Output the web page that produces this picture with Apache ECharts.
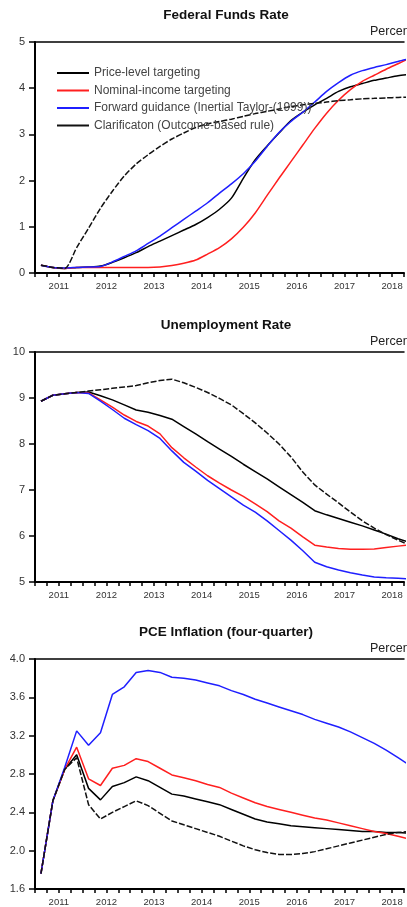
<!DOCTYPE html>
<html><head><meta charset="utf-8">
<script src="https://cdn.jsdelivr.net/npm/echarts@6/dist/echarts.min.js"></script>
<style>html,body{margin:0;padding:0;background:#fff}#c{width:407px;height:907px}</style>
</head><body><div id="c"></div>
<script>
// ---------- data ----------
const quarters = [];
for (let y = 2011; y <= 2018; y++) for (let q = 1; q <= 4; q++) quarters.push(y + 'Q' + q);

const seriesNames = ['Price-level targeting', 'Nominal-income targeting',
  'Forward guidance (Inertial Taylor-(1999))', 'Clarificaton (Outcome-based rule)'];
const panelTitles = ['Federal Funds Rate', 'Unemployment Rate', 'PCE Inflation (four-quarter)'];
const unitLabel = 'Percent';

const ffrPriceLevel = [0.17,0.12,0.10,0.12,0.13,0.15,0.23,0.33,0.44,0.57,0.69,0.81,0.93,1.05,1.20,1.38,1.62,2.05,2.45,2.75,3.03,3.30,3.48,3.64,3.78,3.93,4.03,4.10,4.17,4.22,4.27,4.30];
const ffrNominal = [0.17,0.12,0.10,0.12,0.12,0.12,0.12,0.12,0.12,0.12,0.13,0.16,0.21,0.28,0.41,0.55,0.74,0.99,1.30,1.68,2.05,2.41,2.77,3.13,3.46,3.74,3.97,4.15,4.28,4.41,4.53,4.65];
const ffrForward = [0.17,0.12,0.11,0.12,0.13,0.14,0.24,0.36,0.48,0.64,0.80,0.98,1.16,1.34,1.52,1.73,1.93,2.15,2.42,2.74,3.04,3.28,3.48,3.70,3.93,4.12,4.28,4.38,4.45,4.51,4.58,4.64];
const ffrClarification = [0.17,0.12,0.10,0.55,0.97,1.40,1.77,2.10,2.36,2.56,2.74,2.90,3.03,3.15,3.23,3.28,3.33,3.39,3.45,3.50,3.55,3.60,3.64,3.67,3.70,3.73,3.75,3.77,3.78,3.79,3.80,3.81];

const unPriceLevel = [8.93,9.06,9.09,9.12,9.13,9.05,8.96,8.85,8.74,8.69,8.62,8.54,8.38,8.22,8.05,7.89,7.73,7.56,7.40,7.24,7.07,6.90,6.73,6.55,6.46,6.38,6.30,6.22,6.13,6.04,5.94,5.86];
const unNominal = [8.93,9.06,9.09,9.12,9.11,8.96,8.80,8.63,8.49,8.39,8.22,7.92,7.70,7.50,7.31,7.15,7.00,6.86,6.70,6.53,6.33,6.17,5.98,5.80,5.76,5.73,5.71,5.71,5.72,5.75,5.78,5.81];
const unForward = [8.93,9.06,9.09,9.12,9.10,8.93,8.75,8.56,8.42,8.29,8.12,7.85,7.60,7.41,7.21,7.03,6.85,6.67,6.52,6.33,6.12,5.91,5.68,5.43,5.33,5.26,5.20,5.15,5.11,5.09,5.08,5.07];
const unClarification = [8.93,9.06,9.09,9.12,9.15,9.18,9.21,9.24,9.27,9.33,9.38,9.41,9.33,9.23,9.12,8.99,8.85,8.66,8.46,8.24,8.00,7.72,7.39,7.11,6.91,6.72,6.52,6.33,6.17,6.03,5.91,5.80];

const pcePriceLevel = [1.76,2.52,2.85,3.00,2.65,2.53,2.67,2.71,2.77,2.73,2.66,2.59,2.57,2.54,2.51,2.48,2.43,2.38,2.33,2.30,2.28,2.26,2.25,2.24,2.23,2.22,2.21,2.20,2.20,2.19,2.19,2.18];
const pceNominal = [1.76,2.52,2.85,3.08,2.75,2.68,2.86,2.89,2.96,2.93,2.86,2.79,2.76,2.73,2.69,2.66,2.60,2.55,2.50,2.46,2.43,2.40,2.37,2.34,2.32,2.29,2.26,2.23,2.20,2.18,2.15,2.12];
const pceForward = [1.76,2.52,2.87,3.25,3.10,3.23,3.63,3.71,3.86,3.88,3.86,3.81,3.80,3.78,3.75,3.72,3.67,3.63,3.58,3.54,3.50,3.46,3.42,3.37,3.33,3.29,3.24,3.18,3.12,3.05,2.97,2.89];
const pceClarification = [1.76,2.52,2.85,2.97,2.48,2.33,2.40,2.46,2.52,2.47,2.39,2.31,2.27,2.23,2.19,2.15,2.10,2.05,2.01,1.98,1.96,1.96,1.97,1.99,2.02,2.05,2.08,2.11,2.14,2.17,2.19,2.20];

const yRanges = [[0, 5, 1, 0], [5, 10, 1, 0], [1.6, 4.0, 0.4, 1]]; // min, max, interval, decimals
// ---------- layout ----------
const FONT = 'Liberation Sans, Arial, sans-serif';
const gridTops = [42, 352, 659];
const gridHeights = [231, 230, 231];
const lineColors = ['#000000', '#ff1f1f', '#1f1fff', '#111111'];
const lineTypes = ['solid', 'solid', 'solid', [6, 2]];
const panels = [
  [ffrPriceLevel, ffrNominal, ffrForward, ffrClarification],
  [unPriceLevel, unNominal, unForward, unClarification],
  [pcePriceLevel, pceNominal, pceForward, pceClarification]
];
function qToX(q) {
  const y = parseInt(q.slice(0, 4)), n = parseInt(q.slice(5));
  return y + (n - 1) / 4 + 0.125;
}
const xs = quarters.map(qToX);

const grids = [], xAxes = [], yAxes = [], series = [], graphics = [];
panels.forEach((p, gi) => {
  grids.push({ left: 35, right: 0, top: gridTops[gi], height: gridHeights[gi] });
  xAxes.push({
    gridIndex: gi, type: 'value', min: 2011, max: 2018.75, interval: 0.25,
    axisLine: { onZero: false, lineStyle: { color: '#000', width: 2 } },
    axisTick: { length: 4, lineStyle: { color: '#000', width: 1.5 } },
    splitLine: { show: false },
    axisLabel: {
      margin: 8, fontSize: 9.5, color: '#333', fontFamily: FONT, hideOverlap: false,
      showMinLabel: true, showMaxLabel: true,
      formatter: v => (Math.abs(v - Math.floor(v) - 0.5) < 0.01 ? String(Math.floor(v)) : '')
    }
  });
  xAxes.push({
    gridIndex: gi, type: 'value', position: 'top', min: 2011, max: 2018.75,
    axisLine: { onZero: false, lineStyle: { color: '#000', width: 1.5 } },
    axisTick: { show: false }, axisLabel: { show: false }, splitLine: { show: false }
  });
  const r = yRanges[gi];
  yAxes.push({
    gridIndex: gi, type: 'value', min: r[0], max: r[1], interval: r[2],
    axisLine: { show: true, onZero: false, lineStyle: { color: '#000', width: 2 } },
    axisTick: { show: true, length: 6, lineStyle: { color: '#000', width: 1.5 } },
    splitLine: { show: false },
    axisLabel: { margin: 10, fontSize: 11, color: '#333', fontFamily: FONT,
      formatter: v => v.toFixed(r[3]) }
  });
  p.forEach((arr, si) => {
    series.push({
      name: seriesNames[si], type: 'line', xAxisIndex: gi * 2, yAxisIndex: gi,
      data: arr.map((v, i) => [xs[i], v]),
      symbol: 'none', smooth: gi === 0 ? 0.25 : false, clip: true,
      lineStyle: { color: lineColors[si], width: 1.5, type: lineTypes[si] },
      itemStyle: { color: lineColors[si] }
    });
  });
  graphics.push({
    type: 'text', x: 226, y: gridTops[gi] - 27,
    style: { text: panelTitles[gi], textAlign: 'center', textVerticalAlign: 'middle',
      font: 'bold 13.5px ' + FONT, fill: '#111' }
  });
  graphics.push({
    type: 'text', x: 370, y: gridTops[gi] - 10,
    style: { text: unitLabel, textAlign: 'left', textVerticalAlign: 'middle',
      font: '12.5px ' + FONT, fill: '#222' }
  });
});

const chart = echarts.init(document.getElementById('c'), null, { renderer: 'canvas' });
chart.setOption({
  animation: false,
  backgroundColor: '#fff',
  grid: grids, xAxis: xAxes, yAxis: yAxes, series: series, graphic: graphics,
  legend: {
    data: seriesNames, orient: 'vertical', left: 57, top: 67, padding: 0,
    icon: 'rect', itemWidth: 32, itemHeight: 2, itemGap: 5.5,
    textStyle: { fontSize: 12, lineHeight: 12, color: '#444', fontFamily: FONT }
  }
});
</script></body></html>
